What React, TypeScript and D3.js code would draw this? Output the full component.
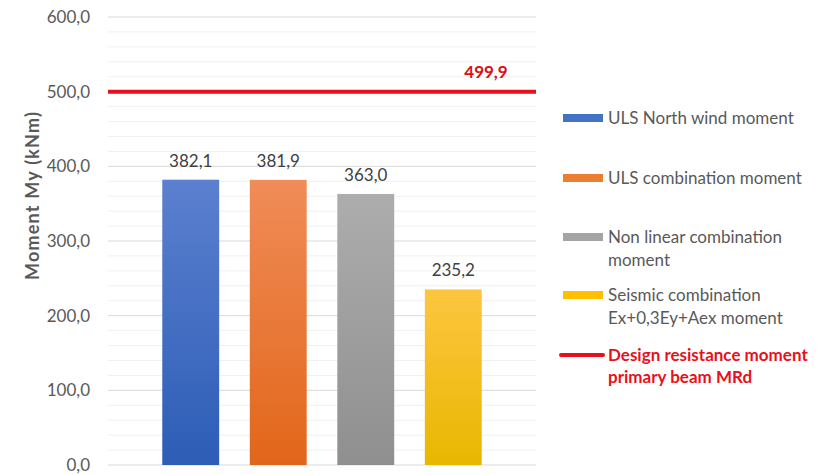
import React from "react";
import * as d3 from "d3";

const series = ["ULS North wind moment", "ULS combination moment", "Non linear combination moment", "Seismic combination Ex+0,3Ey+Aex moment"];
const values = [382.1, 381.9, 363.0, 235.2];
const legendLines = [["ULS North wind moment"], ["ULS combination moment"], ["Non linear combination", "moment"], ["Seismic combination", "Ex+0,3Ey+Aex moment"]];
const resistance = 499.9;
const resistanceLegend = ["Design resistance moment", "primary beam MRd"];
const yTicks = [0, 100, 200, 300, 400, 500, 600];
const minorTicks = d3.range(0, 601, 20);
const gradTop = ["#5b80cf", "#f08c58", "#adadad", "#fdc640"];
const gradBot = ["#2d5db6", "#e2661a", "#8f8f8f", "#e8b700"];
const swatch = ["#4472c4", "#ed7d31", "#a5a5a5", "#ffc000"];

export default function App() {
  const W = 823, H = 475;
  const x0 = 108, x1 = 536;
  const y = d3.scaleLinear().domain([0, 600]).range([465, 17]);
  const x = d3.scaleBand<string>().domain(series).range([x0, x1]).paddingInner(0.35).paddingOuter(0.62);
  const fmt = (v: number) => v.toFixed(1).replace(".", ",");
  const font = "Lato, 'Open Sans', sans-serif";
  const legendY = [118, 178, 237, 295];
  return (
    <svg width={W} height={H} style={{ position: "absolute", left: 0, top: 0, background: "#fff" }} fontFamily={font}>
      <defs>
        {series.map((s, i) => (
          <linearGradient key={s} id={`g${i}`} x1="0" y1="0" x2="0" y2="1">
            <stop offset="0" stopColor={gradTop[i]} />
            <stop offset="1" stopColor={gradBot[i]} />
          </linearGradient>
        ))}
      </defs>
      <rect width={W} height={H} fill="#fff" />
      {minorTicks.filter(t => t % 100 !== 0).map(t => (
        <line key={"m" + t} x1={x0} x2={x1} y1={y(t)} y2={y(t)} stroke="#f0f0f0" strokeWidth={1} />
      ))}
      {yTicks.map(t => (
        <g key={t}>
          <line x1={x0} x2={x1} y1={y(t)} y2={y(t)} stroke="#d9d9d9" strokeWidth={1} />
          <text x={90} y={y(t)} dy="0.35em" textAnchor="end" fontSize={17} fill="#595959">{fmt(t)}</text>
        </g>
      ))}
      <text transform={`translate(33,${196}) rotate(-90)`} textAnchor="middle" dy="0.35em" fontSize={18} fontWeight="bold" fill="#595959" textLength={168} lengthAdjust="spacing">Moment  My (kNm)</text>
      {series.map((s, i) => (
        <g key={s}>
          <rect x={x(s)} y={y(values[i])} width={x.bandwidth()} height={y(0) - y(values[i])} fill={`url(#g${i})`} />
          <text x={(x(s) as number) + x.bandwidth() / 2} y={y(values[i]) - 13} textAnchor="middle" fontSize={17} fill="#404040">{fmt(values[i])}</text>
        </g>
      ))}
      <line x1={x0} x2={x1} y1={y(resistance)} y2={y(resistance)} stroke="#e8101a" strokeWidth={4} />
      <text x={486} y={y(resistance) - 14} textAnchor="middle" fontSize={17} fontWeight="bold" fill="#d81018">{fmt(resistance)}</text>
      {legendLines.map((lines, i) => (
        <g key={i}>
          <rect x={563} y={legendY[i] - 4} width={40} height={8} fill={swatch[i]} />
          {lines.map((l, j) => (
            <text key={j} x={608} y={legendY[i] + j * 23} dy="0.35em" fontSize={17} fill="#595959">{l}</text>
          ))}
        </g>
      ))}
      <line x1={561} x2={603} y1={355} y2={355} stroke="#e8101a" strokeWidth={4} strokeLinecap="round" />
      {resistanceLegend.map((l, j) => (
        <text key={j} x={608} y={355 + j * 22} dy="0.35em" fontSize={17} fontWeight="bold" fill="#e8101a">{l}</text>
      ))}
    </svg>
  );
}
